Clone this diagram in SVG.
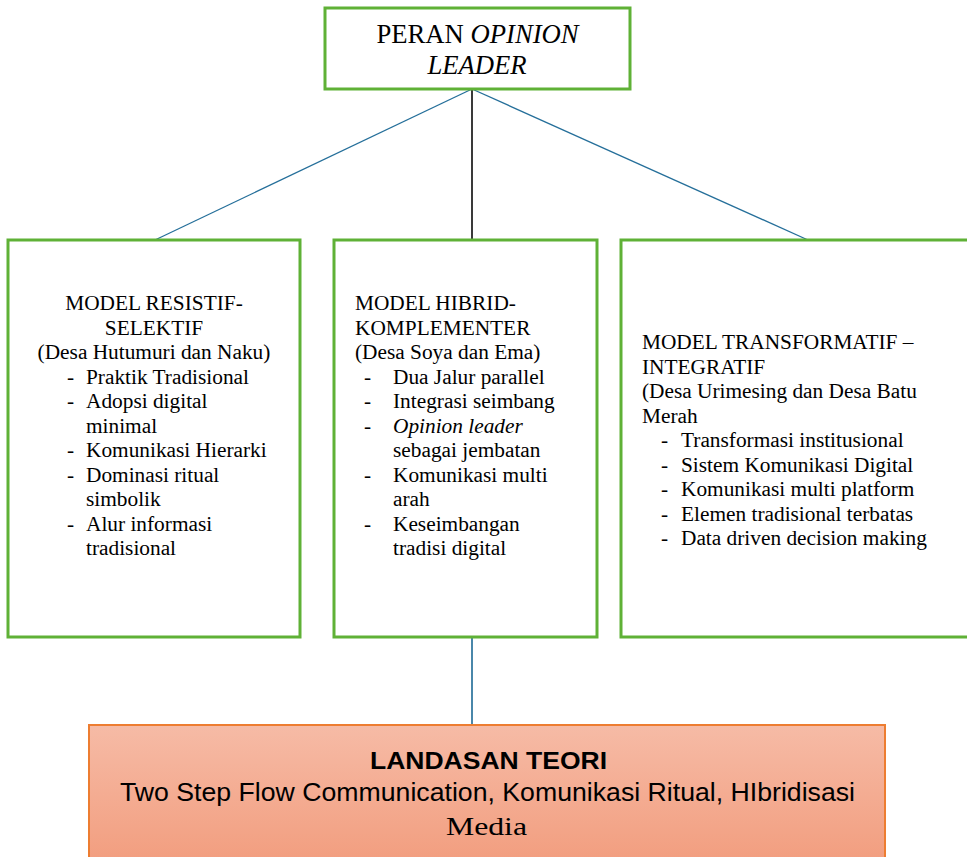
<svg xmlns="http://www.w3.org/2000/svg" width="967" height="857" viewBox="0 0 967 857">
  <defs>
    <linearGradient id="gOrange" x1="0" y1="0" x2="0" y2="1">
      <stop offset="0" stop-color="#f6bba6"/>
      <stop offset="1" stop-color="#f29d7e"/>
    </linearGradient>
  </defs>
  <style>
    .box { fill: #ffffff; stroke: #5fb136; stroke-width: 3; }
    .t { font-family: "Liberation Serif", "Times New Roman", serif; font-size: 21.33px; fill: #000; }
    .tc { text-anchor: middle; }
    .big { font-size: 26.67px; }
    .conn-blue { stroke: #256f9a; stroke-width: 1.3; fill: none; }
    .conn-dark { stroke: #3a3a3a; stroke-width: 2; fill: none; }
    .conn-blue2 { stroke: #4a87aa; stroke-width: 2; fill: none; }
  </style>
  <rect width="967" height="857" fill="#ffffff"/>

  <g id="connectors">
    <line class="conn-blue" x1="472" y1="89" x2="155" y2="240"/>
    <line class="conn-dark" x1="472" y1="89" x2="472" y2="240"/>
    <line class="conn-blue" x1="472" y1="89" x2="808" y2="240"/>
    <line class="conn-blue2" x1="472" y1="637" x2="472" y2="725"/>
  </g>

  <g id="peran">
    <rect class="box" x="325" y="8" width="305" height="81"/>
    <text class="t big tc" x="477.5" y="43">PERAN <tspan font-style="italic">OPINION</tspan></text>
    <text class="t big tc" x="477" y="74" font-style="italic">LEADER</text>
  </g>

  <g id="model-resistif">
    <rect class="box" x="8" y="240" width="292" height="397"/>
    <text class="t tc" x="154" y="310">MODEL RESISTIF-</text>
    <text class="t tc" x="154" y="334.5">SELEKTIF</text>
    <text class="t tc" x="154" y="359">(Desa Hutumuri dan Naku)</text>
    <g class="t">
      <text x="67" y="383.5">-</text><text x="86" y="383.5">Praktik Tradisional</text>
      <text x="67" y="408">-</text><text x="86" y="408">Adopsi digital</text>
      <text x="86" y="432.5">minimal</text>
      <text x="67" y="457">-</text><text x="86" y="457">Komunikasi Hierarki</text>
      <text x="67" y="481.5">-</text><text x="86" y="481.5">Dominasi ritual</text>
      <text x="86" y="506">simbolik</text>
      <text x="67" y="530.5">-</text><text x="86" y="530.5">Alur informasi</text>
      <text x="86" y="555">tradisional</text>
    </g>
  </g>

  <g id="model-hibrid">
    <rect class="box" x="334" y="240" width="263" height="397"/>
    <g class="t">
      <text x="355" y="310">MODEL HIBRID-</text>
      <text x="355" y="334.5">KOMPLEMENTER</text>
      <text x="355" y="359">(Desa Soya dan Ema)</text>
      <text x="364" y="383.5">-</text><text x="393" y="383.5">Dua Jalur parallel</text>
      <text x="364" y="408">-</text><text x="393" y="408">Integrasi seimbang</text>
      <text x="364" y="432.5">-</text><text x="393" y="432.5" font-style="italic">Opinion leader</text>
      <text x="393" y="457">sebagai jembatan</text>
      <text x="364" y="481.5">-</text><text x="393" y="481.5">Komunikasi multi</text>
      <text x="393" y="506">arah</text>
      <text x="364" y="530.5">-</text><text x="393" y="530.5">Keseimbangan</text>
      <text x="393" y="555">tradisi digital</text>
    </g>
  </g>

  <g id="model-transformatif">
    <rect class="box" x="621" y="240" width="360" height="397"/>
    <g class="t">
      <text x="642" y="349">MODEL TRANSFORMATIF –</text>
      <text x="642" y="373.5">INTEGRATIF</text>
      <text x="642" y="398">(Desa Urimesing dan Desa Batu</text>
      <text x="642" y="422.5">Merah</text>
      <text x="661" y="447">-</text><text x="681" y="447">Transformasi institusional</text>
      <text x="661" y="471.5">-</text><text x="681" y="471.5">Sistem Komunikasi Digital</text>
      <text x="661" y="496">-</text><text x="681" y="496">Komunikasi multi platform</text>
      <text x="661" y="520.5">-</text><text x="681" y="520.5">Elemen tradisional terbatas</text>
      <text x="661" y="545">-</text><text x="681" y="545">Data driven decision making</text>
    </g>
  </g>

  <g id="landasan-teori">
    <rect x="89" y="725" width="796" height="140" fill="url(#gOrange)" stroke="#ed7d31" stroke-width="2"/>
    <text x="370" y="769" font-family="'Liberation Sans', Arial, sans-serif" font-weight="bold" font-size="24" textLength="237" lengthAdjust="spacingAndGlyphs">LANDASAN TEORI</text>
    <text x="120" y="801" font-family="'Liberation Sans', Arial, sans-serif" font-size="26.5" textLength="735" lengthAdjust="spacingAndGlyphs">Two Step Flow Communication, Komunikasi Ritual, HIbridisasi</text>
    <text x="446" y="835" font-family="'Liberation Serif', 'Times New Roman', serif" font-size="26" textLength="81" lengthAdjust="spacingAndGlyphs">Media</text>
  </g>
</svg>
